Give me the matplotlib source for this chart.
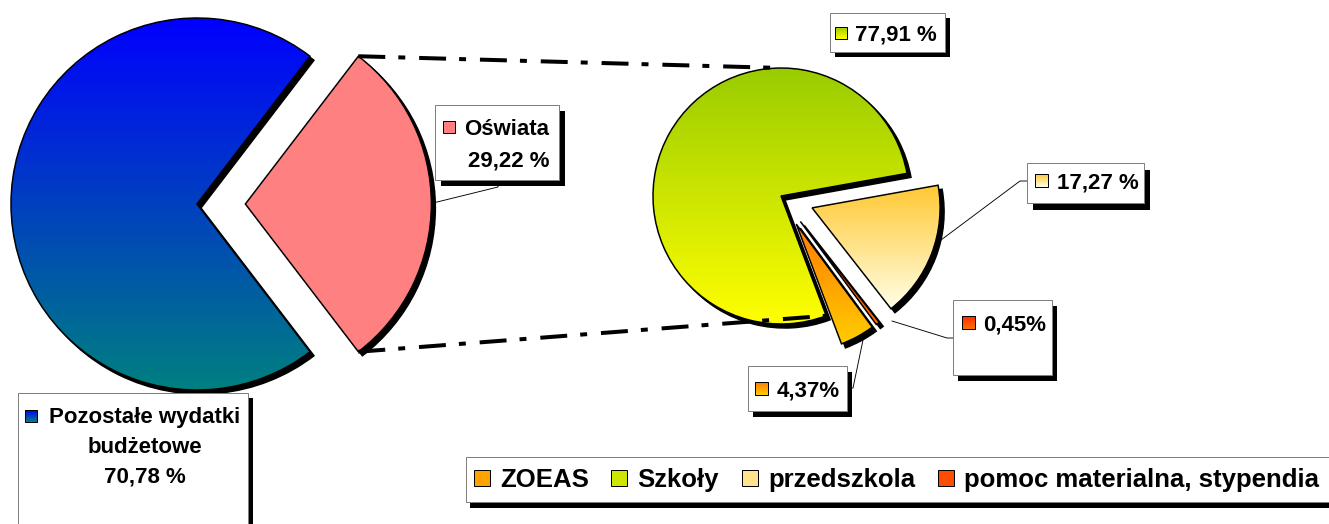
import textwrap
import numpy as np
import matplotlib
matplotlib.use("Agg")
import matplotlib.pyplot as plt
from matplotlib.patches import Rectangle, Wedge, Patch
from matplotlib.colors import LinearSegmentedColormap

# ---------------- data ----------------
main_categories = ["Pozostałe wydatki budżetowe", "Oświata"]
main_values = [70.78, 29.22]
main_value_labels = ["70,78 %", "29,22 %"]

edu_categories = ["ZOEAS", "Szkoły", "przedszkola", "pomoc materialna, stypendia"]
edu_values = [4.37, 77.91, 17.27, 0.45]
edu_value_labels = ["4,37%", "77,91 %", "17,27 %", "0,45%"]

# ---------------- style ----------------
main_grad = [("#0000FF", "#008080"), ("#FF8080", "#FF8080")]
edu_grad = [("#FF7A00", "#FFCC00"), ("#99CC00", "#FFFF00"),
            ("#FFC833", "#FFFFE6"), ("#FF2A00", "#FF7000")]

plt.rcParams["font.family"] = ["Liberation Sans", "DejaVu Sans"]
plt.rcParams["font.weight"] = "bold"
plt.rcParams["lines.scale_dashes"] = False

W, H = 1329, 524
PX = 72 / 100.0  # points per pixel

fig = plt.figure(figsize=(W / 100, H / 100), dpi=100)
ax = fig.add_axes([0, 0, 1, 1])


def Y(y):
    return H - y


# explode scale check (whether pie scales explode by radius)
_tf, _ta = plt.subplots()
_w, _ = _ta.pie([1, 1], radius=10, explode=[1, 0])
EXPL_SCALE = np.hypot(*_w[0].center) / 10.0  # 1.0 if scaled by radius, 0.1 if not
plt.close(_tf)


def grad_fill(x0, x1, y0, y1, ctop, cbot, clip=None, z=2):
    cmap = LinearSegmentedColormap.from_list("g", [ctop, cbot])
    arr = np.linspace(0, 1, 256).reshape(-1, 1)
    im = ax.imshow(arr, cmap=cmap, extent=(x0, x1, y0, y1), origin="upper",
                   aspect="auto", interpolation="bilinear", zorder=z)
    if clip is not None:
        im.set_clip_path(clip)
    return im


def draw_pie(values, center, radius, startangle, counterclock, explode_frac, grads):
    expl = [e * (1.0 if EXPL_SCALE > 0.5 else radius) for e in explode_frac]
    wedges, _ = ax.pie(values, center=center, radius=radius, startangle=startangle,
                       counterclock=counterclock, explode=expl, frame=True,
                       wedgeprops=dict(edgecolor="black", linewidth=1.5 * PX, zorder=3))
    for w, (ct, cb) in zip(wedges, grads):
        cx, cy = w.center
        ax.add_patch(Wedge((cx + 4, cy - 4), w.r, w.theta1, w.theta2,
                           facecolor="black", edgecolor="black", linewidth=1.5 * PX, zorder=1))
        if ct == cb:
            w.set_facecolor(ct)
        else:
            ext = w.get_path().get_extents()
            w.set_facecolor("none")
            grad_fill(ext.x0, ext.x1, ext.y0, ext.y1, ct, cb, clip=w, z=2)
    return wedges


main_w = draw_pie(main_values, (197, Y(204)), 186, 52.6, True, [0, 0.26], main_grad)
edu_w = draw_pie(edu_values, (781, Y(196)), 128, -53.6, False, [0.25, 0, 0.26, 0.25], edu_grad)


def rim(w, ang):
    c = np.array(w.center)
    return c + w.r * np.array([np.cos(np.radians(ang)), np.sin(np.radians(ang))])


# ---------------- connector lines (dash-dot) ----------------
pink = main_w[1]
top_tip = rim(pink, pink.theta2)
bot_tip = rim(pink, pink.theta1)
sz = edu_w[1]
right_top = rim(sz, 90)
right_bot = rim(sz, sz.theta2)
dash = (0, (19.4, 9.4, 5.0, 10.0))
for a, b in [(top_tip, right_top), (bot_tip, right_bot)]:
    ax.plot([a[0], b[0]], [a[1], b[1]], color="black", lw=4 * PX,
            linestyle=dash, dash_capstyle="butt", zorder=4)

# ---------------- label boxes ----------------
FS = 16


def box(x0, y0, x1, y1, sx=5, sy=6):
    ax.add_patch(Rectangle((x0 + sx, Y(y1 + sy)), x1 - x0, y1 - y0,
                           facecolor="black", edgecolor="none", zorder=8))
    ax.add_patch(Rectangle((x0, Y(y1)), x1 - x0, y1 - y0,
                           facecolor="white", edgecolor="#808080", linewidth=1 * PX, zorder=9))


def key(x0, y0, size, ct, cb):
    grad_fill(x0, x0 + size, Y(y0 + size), Y(y0), ct, cb, z=10)
    ax.add_patch(Rectangle((x0, Y(y0 + size)), size, size, facecolor="none",
                           edgecolor="black", linewidth=1 * PX, zorder=11))


def txt(x, ymid, s, ha="left"):
    ax.text(x, Y(ymid + 8), s, ha=ha, va="baseline", fontsize=FS,
            fontweight="bold", color="black", zorder=12)


def leader(pts):
    xs = [p[0] for p in pts]
    ys = [Y(p[1]) for p in pts]
    ax.plot(xs, ys, color="black", lw=0.9 * PX, zorder=7)


# Pozostałe wydatki budżetowe
box(18, 393, 248, 540, sx=5, sy=5)
key(25, 410, 12, *main_grad[0])
lines0 = textwrap.fill(main_categories[0], 18).split("\n") + [main_value_labels[0]]
for i, s in enumerate(lines0):
    txt(145, 415 + 30 * i, s, ha="center")

# Oświata
box(435, 105, 559, 180, sx=6, sy=6)
key(443, 121, 12, *main_grad[1])
txt(507, 127, main_categories[1], ha="center")
txt(509, 159, main_value_labels[1], ha="center")
leader([(498, 180), (498, 187), (433, 203)])

# Szkoły 77,91 %
box(830, 13, 945, 52, sx=5, sy=5)
key(835, 27, 12, *edu_grad[1])
txt(855, 33, edu_value_labels[1])

# przedszkola 17,27 %
box(1027, 163, 1144, 203, sx=6, sy=7)
key(1035, 174, 13, *edu_grad[2])
txt(1057, 180, edu_value_labels[2])
leader([(1027, 181), (1020, 181), (937, 243)])

# pomoc 0,45%
box(953, 300, 1052, 375, sx=5, sy=6)
key(962, 316, 13, *edu_grad[3])
txt(983, 323, edu_value_labels[3])
leader([(953, 338), (947, 338), (892, 321)])

# ZOEAS 4,37%
box(748, 366, 847, 411, sx=5, sy=6)
key(755, 382, 13, *edu_grad[0])
txt(777, 388, edu_value_labels[0])
leader([(847, 388), (853, 388), (863, 340)])

# ---------------- legend ----------------
ax.add_patch(Rectangle((466 + 4, Y(502 + 6)), 900, 45, facecolor="black", edgecolor="none", zorder=8))
ax.add_patch(Rectangle((466, Y(502)), 900, 45, facecolor="white", edgecolor="#808080",
                       linewidth=1 * PX, zorder=9))
handles = [Patch(facecolor=LinearSegmentedColormap.from_list("m", [ct, cb])(0.5),
                 edgecolor="black", linewidth=1 * PX) for ct, cb in edu_grad]
LFS = 18.5
leg = ax.legend(handles, edu_categories, ncol=4, loc="center left",
                bbox_to_anchor=(466, Y(480)), bbox_transform=ax.transData,
                frameon=False, prop=dict(family=["Liberation Sans", "DejaVu Sans"],
                                         weight="bold", size=LFS),
                handlelength=0.62, handleheight=0.62,
                handletextpad=0.4, columnspacing=0.88, borderpad=0.3, borderaxespad=0)
leg.set_zorder(12)

ax.set_xlim(0, W)
ax.set_ylim(0, H)
ax.set_aspect("auto")
ax.axis("off")
fig.savefig("out.png", dpi=100)
